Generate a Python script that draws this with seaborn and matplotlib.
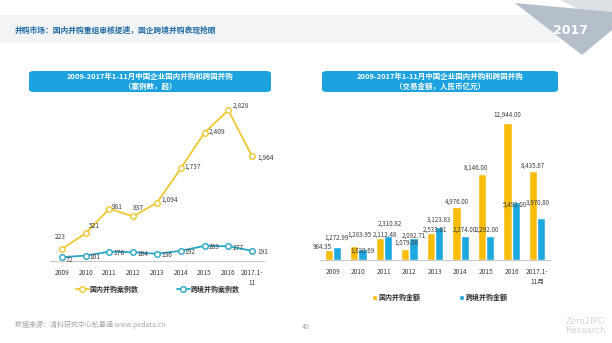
import matplotlib
matplotlib.use("Agg")
import matplotlib.pyplot as plt
from matplotlib.patches import FancyBboxPatch, Polygon, Rectangle
from matplotlib.lines import Line2D
import seaborn as sns
import pandas as pd

sns.set_theme(style="white")
plt.rcParams['font.family'] = ['Noto Sans CJK SC', 'DejaVu Sans']

years = ["2009", "2010", "2011", "2012", "2013", "2014", "2015", "2016", "2017.1-"]
left_ticklabels = ["2009", "2010", "2011", "2012", "2013", "2014", "2015", "2016", "2017.1-\n11"]
right_ticklabels = ["2009", "2010", "2011", "2012", "2013", "2014", "2015", "2016", "2017.1-\n11月"]
domestic_count = [223, 521, 981, 837, 1094, 1737, 2409, 2828, 1964]
cross_count = [72, 101, 176, 164, 136, 192, 283, 277, 191]
domestic_amount = [984.35, 1283.95, 2112.48, 1079.08, 2533.61, 4976.00, 8146.00, 12944.00, 8435.67]
cross_amount = [1272.99, 1020.69, 2310.82, 2092.71, 3123.83, 2274.00, 2292.00, 5492.00, 3970.80]

s_dom_cnt = "国内并购案例数"
s_cross_cnt = "跨境并购案例数"
s_dom_amt = "国内并购金额"
s_cross_amt = "跨境并购金额"

header = "并购市场：国内并购重组审核提速，国企跨境并购表现抢眼"
title_main = "2009-2017年1-11月中国企业国内并购和跨国并购"
title_left_sub = "（案例数，起）"
title_right_sub = "（交易金额，人民币亿元）"
source = "数据来源：清科研究中心私募通 www.pedata.cn"

YELLOW_LINE = "#f0c832"
BLUE_LINE = "#2aa6c8"
YELLOW_BAR = "#f7bd0a"
BLUE_BAR = "#1ea8e0"
BOX = "#1da2e0"

W, H = 612, 343
PT = 0.72  # points per pixel at dpi 100
fig = plt.figure(figsize=(W / 100, H / 100), dpi=100)
fig.patch.set_facecolor("white")

def fx(px):
    return px / W

def fy(py):
    return 1 - py / H

# header band
fig.patches.append(Rectangle((0, fy(43)), fx(560), (43 - 15) / H, transform=fig.transFigure,
                             facecolor="#f3f4f5", edgecolor="none", zorder=0))
fig.text(fx(15), fy(30), header, fontsize=5.6, color="#1f6aa5", fontweight="bold",
         va="center", ha="left")
# badge
fig.patches.append(Polygon([(fx(560), fy(0)), (fx(612), fy(0)), (fx(612), fy(26))],
                           closed=True, transform=fig.transFigure, facecolor="#dde1e5",
                           edgecolor="none", zorder=1))
fig.patches.append(Polygon([(fx(515), fy(3)), (fx(612), fy(12)), (fx(612), fy(30)), (fx(582), fy(55))],
                           closed=True, transform=fig.transFigure, facecolor="#b4bfca",
                           edgecolor="none", zorder=2))
fig.text(fx(570), fy(31), "2017", fontsize=9, color="white", fontweight="bold",
         ha="center", va="center", family="DejaVu Sans", zorder=3)

# title boxes
for x0, x1, sub in [(29, 271, title_left_sub), (322, 558, title_right_sub)]:
    fig.patches.append(FancyBboxPatch((fx(x0), fy(92)), fx(x1 - x0), (92 - 71) / H,
                                      boxstyle="round,pad=0,rounding_size=0.008",
                                      transform=fig.transFigure, facecolor=BOX,
                                      edgecolor="none", zorder=1))
    cx = fx((x0 + x1) / 2)
    fig.text(cx, fy(76.5), title_main, fontsize=5.4, color="white", fontweight="bold",
             ha="center", va="center", zorder=2)
    fig.text(cx, fy(86.5), sub, fontsize=5.4, color="white", fontweight="bold",
             ha="center", va="center", zorder=2)

# ---------- left chart ----------
ax1 = fig.add_axes([fx(50), fy(261), fx(214), (261 - 100) / H])
n = len(years)
df1 = pd.DataFrame({
    "pos": list(range(n)) * 2,
    "value": domestic_count + cross_count,
    "series": [s_dom_cnt] * n + [s_cross_cnt] * n,
})
sns.lineplot(data=df1, x="pos", y="value", hue="series", ax=ax1,
             palette={s_dom_cnt: YELLOW_LINE, s_cross_cnt: BLUE_LINE},
             marker="o", markersize=4, markerfacecolor="white", markeredgewidth=1.0,
             linewidth=1.3, legend=False)
for line, col in zip(ax1.lines, [YELLOW_LINE, BLUE_LINE]):
    line.set_markeredgecolor(col)
ax1.set_xlim(-0.5, 8.5)
ax1.set_ylim(0, 3020)
ax1.set_xticks(range(n))
ax1.set_xticklabels(left_ticklabels, fontsize=4.8, color="#404040", linespacing=1.25)
ax1.tick_params(axis="x", length=0, pad=6)
ax1.set_yticks([])
ax1.set_xlabel("")
ax1.set_ylabel("")
for s in ["left", "right", "top"]:
    ax1.spines[s].set_visible(False)
ax1.spines["bottom"].set_color("#c8c8c8")
ax1.spines["bottom"].set_linewidth(0.8)
ax1.patch.set_alpha(0)

dom_offsets = [(-1, 9), (2, 5), (2, 1), (0, 6), (3, 2), (3, 1), (3, 1), (3, 3), (4, -1)]
for i, v in enumerate(domestic_count):
    dx, dy = dom_offsets[i]
    ax1.annotate(f"{v:,}", (i, v), xytext=(dx, dy), textcoords="offset points",
                 fontsize=4.8, color="#404040", ha="left" if i else "center", va="center")
for i, v in enumerate(cross_count):
    ax1.annotate(f"{v:,}", (i, v), xytext=(3 if i < 8 else 4, -1 if i else -2),
                 textcoords="offset points", fontsize=4.8, color="#404040",
                 ha="left", va="center")

h1 = [Line2D([], [], color=YELLOW_LINE, marker="o", markerfacecolor="white", markersize=4,
             linewidth=1.3, markevery=[1]),
      Line2D([], [], color=BLUE_LINE, marker="o", markerfacecolor="white", markersize=4,
             linewidth=1.3, markevery=[1])]
fig.legend(h1, [s_dom_cnt, s_cross_cnt], loc="center", bbox_to_anchor=(fx(158), fy(289)),
           ncol=2, frameon=False, handlelength=1.8, columnspacing=5.5,
           handletextpad=0.2, prop={"size": 5, "weight": "bold"})
for t in fig.legends[-1].get_texts():
    t.set_color("#303030")

# ---------- right chart ----------
ax2 = fig.add_axes([fx(320), fy(260), fx(230), (260 - 100) / H])
df2 = pd.DataFrame({
    "year": years * 2,
    "value": domestic_amount + cross_amount,
    "series": [s_dom_amt] * n + [s_cross_amt] * n,
})
sns.barplot(data=df2, x="year", y="value", hue="series", ax=ax2,
            palette={s_dom_amt: YELLOW_BAR, s_cross_amt: BLUE_BAR},
            width=0.64, gap=0.0, legend=False, saturation=1)
ax2.set_xlim(-0.5, 8.5)
ax2.set_ylim(0, 15120)
ax2.set_xticks(range(n))
ax2.set_xticklabels(right_ticklabels, fontsize=4.8, color="#404040", linespacing=1.25)
ax2.tick_params(axis="x", length=0, pad=6)
ax2.set_yticks([])
ax2.set_xlabel("")
ax2.set_ylabel("")
for s in ["left", "right", "top"]:
    ax2.spines[s].set_visible(False)
ax2.spines["bottom"].set_color("#c8c8c8")
ax2.spines["bottom"].set_linewidth(0.8)
ax2.patch.set_alpha(0)

# label placement (pixel offsets of label centre from bar top-centre), as in the reference
dom_lbl_off = [(-6, 3), (5.5, 12), (5, 3), (1.5, 6), (4, 4), (0, 6), (-6, 6), (0, 8), (0, 5)]
cross_lbl_off = [(0, 9), (0, -1), (2, 12), (0, 2), (0, 7), (0, 6), (-3, 6), (-1, -3), (-3, 15)]
for cont, offs in zip(ax2.containers, [dom_lbl_off, cross_lbl_off]):
    for bar, (dx, dy) in zip(cont, offs):
        h = bar.get_height()
        ax2.annotate(f"{h:,.2f}", (bar.get_x() + bar.get_width() / 2, h),
                     xytext=(dx * PT, dy * PT), textcoords="offset points",
                     fontsize=4.5, color="#404040", ha="center", va="center")

h2 = [Rectangle((0, 0), 1, 1, facecolor=YELLOW_BAR), Rectangle((0, 0), 1, 1, facecolor=BLUE_BAR)]
fig.legend(h2, [s_dom_amt, s_cross_amt], loc="center", bbox_to_anchor=(fx(440), fy(297)),
           ncol=2, frameon=False, handlelength=0.7, handleheight=0.7,
           columnspacing=5.5, handletextpad=0.3, prop={"size": 5, "weight": "bold"})
for t in fig.legends[-1].get_texts():
    t.set_color("#303030")

# footer
fig.text(fx(15), fy(325), source, fontsize=5, color="#a8a8a8", ha="left", va="center")
fig.text(fx(306), fy(327), "40", fontsize=5, color="#a8a8a8", ha="center", va="center")
fig.text(fx(566), fy(326), "Zero2IPO\nResearch", fontsize=6.2, color="#b0b0b0",
         ha="left", va="center", family="DejaVu Sans", linespacing=0.95,
         fontweight="light")

fig.savefig("out.png", dpi=100)
